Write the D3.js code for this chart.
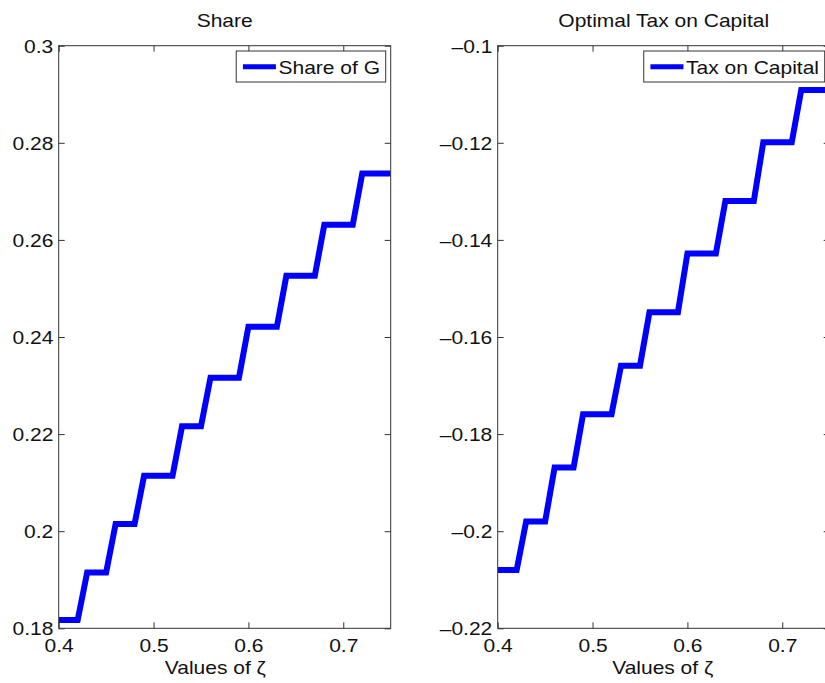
<!DOCTYPE html>
<html>
<head>
<meta charset="utf-8">
<script src="https://cdn.jsdelivr.net/npm/d3@7"></script>
<style>
  html, body { margin: 0; padding: 0; background: #fff; }
  svg { display: block; }
  text { font-family: "Liberation Sans", Arial, Helvetica, sans-serif; fill: #111; }
</style>
</head>
<body>
<svg id="chart" width="825" height="683"></svg>
<script>
// ---- data ----
const zeta = [0.40, 0.41, 0.42, 0.43, 0.44, 0.45, 0.46, 0.47, 0.48, 0.49, 0.50, 0.51,
              0.52, 0.53, 0.54, 0.55, 0.56, 0.57, 0.58, 0.59, 0.60, 0.61, 0.62, 0.63,
              0.64, 0.65, 0.66, 0.67, 0.68, 0.69, 0.70, 0.71, 0.72, 0.73, 0.74, 0.75];
const shareG = [0.1817, 0.1817, 0.1817, 0.1915, 0.1915, 0.1915, 0.2015, 0.2015, 0.2015,
                0.2114, 0.2114, 0.2114, 0.2114, 0.2216, 0.2216, 0.2216,
                0.2316, 0.2316, 0.2316, 0.2316, 0.2421, 0.2421, 0.2421, 0.2421,
                0.2526, 0.2526, 0.2526, 0.2526, 0.2631, 0.2631, 0.2631, 0.2631,
                0.2737, 0.2737, 0.2737, 0.2737];
const taxCapital = [-0.2080, -0.2080, -0.2080, -0.1980, -0.1980, -0.1980, -0.1869, -0.1869, -0.1869,
                    -0.1759, -0.1759, -0.1759, -0.1759, -0.1659, -0.1659, -0.1659,
                    -0.1549, -0.1549, -0.1549, -0.1549, -0.1428, -0.1428, -0.1428, -0.1428,
                    -0.1320, -0.1320, -0.1320, -0.1320, -0.1199, -0.1199, -0.1199, -0.1199,
                    -0.1091, -0.1091, -0.1091, -0.1091];
const xTicks = [0.4, 0.5, 0.6, 0.7];
const xTickLabels = ["0.4", "0.5", "0.6", "0.7"];
const shareTicks = [0.18, 0.2, 0.22, 0.24, 0.26, 0.28, 0.3];
const shareTickLabels = ["0.18", "0.2", "0.22", "0.24", "0.26", "0.28", "0.3"];
const taxTicks = [-0.22, -0.2, -0.18, -0.16, -0.14, -0.12, -0.1];
const taxTickLabels = ["\u20130.22", "\u20130.2", "\u20130.18", "\u20130.16", "\u20130.14", "\u20130.12", "\u20130.1"];
const titles = ["Share", "Optimal Tax on Capital"];
const legendLabels = ["Share of G", "Tax on Capital"];
const xLabel = "Values of \u03B6";

// ---- layout ----
const FS = 17.5, SX = 1.2;
const plotTop = 45.7, plotBottom = 628.3;
const panels = [
  { x0: 58.7, x1: 390.7, y: shareG, ydom: [0.18, 0.3], yt: shareTicks, ytl: shareTickLabels,
    title: titles[0], legend: legendLabels[0], xlabelX: 215.3 },
  { x0: 497.7, x1: 829.7, y: taxCapital, ydom: [-0.22, -0.1], yt: taxTicks, ytl: taxTickLabels,
    title: titles[1], legend: legendLabels[1], xlabelX: 662.7 }
];

const svg = d3.select("#chart");
svg.append("rect").attr("width", 825).attr("height", 683).attr("fill", "#fff");

function stretchText(sel, anchorX) {
  sel.each(function () {
    d3.select(this).attr("x", anchorX / SX).attr("transform", `scale(${SX},1)`);
  });
}

function addText(g, x, y, str, anchor) {
  const gg = g.append("g").attr("transform", `translate(${x},${y})`);
  return gg.append("text").attr("x", 0).attr("y", 0)
    .attr("text-anchor", anchor || "middle")
    .attr("font-size", FS)
    .attr("transform", `scale(${SX},1)`)
    .text(str);
}

panels.forEach((p, i) => {
  const x = d3.scaleLinear().domain([0.4, 0.75]).range([p.x0, p.x1]);
  const y = d3.scaleLinear().domain(p.ydom).range([plotBottom, plotTop]);
  const g = svg.append("g");

  const clipId = "clip" + i;
  svg.append("clipPath").attr("id", clipId).append("rect")
    .attr("x", p.x0).attr("y", plotTop).attr("width", p.x1 - p.x0).attr("height", plotBottom - plotTop);

  const line = d3.line().x((d, k) => x(zeta[k])).y(d => y(d));
  g.append("path").datum(p.y)
    .attr("clip-path", `url(#${clipId})`)
    .attr("d", line)
    .attr("fill", "none").attr("stroke", "#0000ff")
    .attr("stroke-width", 6).attr("stroke-linejoin", "miter").attr("stroke-miterlimit", 4);

  const axB = g.append("g").attr("transform", `translate(0,${plotBottom})`)
    .call(d3.axisBottom(x).tickValues(xTicks).tickSizeInner(-6).tickSizeOuter(0)
      .tickFormat((d, k) => xTickLabels[k]));
  const axT = g.append("g").attr("transform", `translate(0,${plotTop})`)
    .call(d3.axisTop(x).tickValues(xTicks).tickSizeInner(-6).tickSizeOuter(0).tickFormat(""));
  const axL = g.append("g").attr("transform", `translate(${p.x0},0)`)
    .call(d3.axisLeft(y).tickValues(p.yt).tickSizeInner(-6).tickSizeOuter(0)
      .tickFormat((d, k) => p.ytl[k]));
  const axR = g.append("g").attr("transform", `translate(${p.x1},0)`)
    .call(d3.axisRight(y).tickValues(p.yt).tickSizeInner(-6).tickSizeOuter(0).tickFormat(""));

  [axB, axT, axL, axR].forEach(a => {
    a.attr("font-family", null).attr("font-size", null);
    a.select(".domain").remove();
    a.selectAll(".tick line").attr("stroke", "#333").attr("stroke-width", 1);
    a.selectAll("text").attr("font-size", FS).attr("fill", "#111");
  });
  axB.selectAll(".tick text").attr("y", 23.7).attr("dy", null);
  stretchText(axB.selectAll(".tick text"), 0);
  axL.selectAll(".tick text").attr("dy", "0.36em");
  stretchText(axL.selectAll(".tick text"), -5.4);

  g.append("rect").attr("x", p.x0).attr("y", plotTop)
    .attr("width", p.x1 - p.x0).attr("height", plotBottom - plotTop)
    .attr("fill", "none").attr("stroke", "#333").attr("stroke-width", 1);

  addText(svg, (p.x0 + p.x1) / 2, 27, p.title, "middle");
  addText(svg, p.xlabelX, 673.5, xLabel, "middle");

  const lg = svg.append("g");
  const box = lg.append("rect").attr("fill", "#fff").attr("stroke", "#333").attr("stroke-width", 1);
  const lt = addText(lg, 0, 0, p.legend, "start");
  const tw = lt.node().getComputedTextLength() * SX;
  const bw = 6.7 + 33 + 2.6 + tw + 5.7;
  const bx = p.x1 - 5 - bw, by = 51, bh = 31;
  box.attr("x", bx).attr("y", by).attr("width", bw).attr("height", bh);
  lg.append("line").attr("x1", bx + 6.7).attr("x2", bx + 39.7)
    .attr("y1", by + 15.7).attr("y2", by + 15.7)
    .attr("stroke", "#0000ff").attr("stroke-width", 5);
  lt.node().parentNode.setAttribute("transform", `translate(${bx + 42.3},${by + 22.5})`);
});
</script>
</body>
</html>
